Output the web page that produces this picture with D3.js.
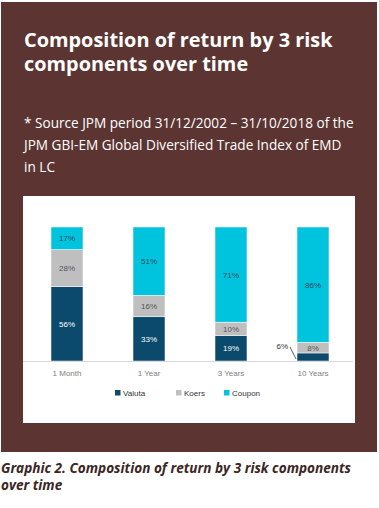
<!DOCTYPE html>
<html><head><meta charset="utf-8">
<script src="https://cdn.jsdelivr.net/npm/d3@7"></script>
<style>html,body{margin:0;padding:0;background:#fff;}svg{display:block;}</style>
</head><body>
<script>
const categories = ["1 Month", "1 Year", "3 Years", "10 Years"];
const seriesNames = ["Valuta", "Koers", "Coupon"];
const valuta = [56, 33, 19, 6];
const koers = [28, 16, 10, 8];
const coupon = [17, 51, 71, 86];
const colors = ["#0b4a6c", "#bfbfbf", "#00c3dd"];
const labelColors = ["#ffffff", "#555555", "#2b4a55"];

const W = 379, H = 508;
const svg = d3.select("body").append("svg").attr("width", W).attr("height", H);

svg.append("rect").attr("x", 1).attr("y", 2).attr("width", 376).attr("height", 450).attr("fill", "#5c3532");
svg.append("rect").attr("x", 23).attr("y", 196).attr("width", 332).attr("height", 227).attr("fill", "#ffffff");

const title = svg.append("text").attr("font-family", "'Open Sans'").attr("font-weight", 700)
  .attr("font-size", 19.9).attr("fill", "#fff");
title.append("tspan").attr("x", 24).attr("y", 47).text("Composition of return by 3 risk");
title.append("tspan").attr("x", 24).attr("y", 71).text("components over time");

const sub = svg.append("text").attr("font-family", "'Open Sans'").attr("font-size", 13.6).attr("fill", "#fff");
["* Source JPM period 31/12/2002 \u2013 31/10/2018 of the", "JPM GBI-EM Global Diversified Trade Index of EMD", "in LC"]
  .forEach((t, i) => sub.append("tspan").attr("x", 24).attr("y", 128 + i * 22).text(t));

const cap = svg.append("text").attr("font-family", "'Open Sans'").attr("font-weight", 700).attr("font-style", "italic")
  .attr("font-size", 13.6).attr("fill", "#3a2624");
cap.append("tspan").attr("x", 1).attr("y", 473).text("Graphic 2. Composition of return by 3 risk components");
cap.append("tspan").attr("x", 1).attr("y", 490).text("over time");

const table = categories.map((c, i) => ({cat: c, Valuta: valuta[i], Koers: koers[i], Coupon: coupon[i]}));
const stack = d3.stack().keys(seriesNames).offset(d3.stackOffsetExpand)(table);

const x = d3.scaleBand().domain(categories).range([26, 354]).paddingInner(0.61).paddingOuter(0.305);
const y = d3.scaleLinear().domain([0, 1]).range([361, 227]);

const g = svg.append("g");
stack.forEach((s, si) => {
  g.selectAll(null).data(s).enter().append("rect")
    .attr("x", d => x(d.data.cat)).attr("width", x.bandwidth())
    .attr("y", d => y(d[1])).attr("height", d => y(d[0]) - y(d[1]))
    .attr("fill", colors[si]).attr("stroke", "#fff").attr("stroke-width", 0.5);
  g.selectAll(null).data(s).enter().append("text")
    .attr("x", d => {
      const v = d.data[s.key];
      return v < 7 ? x(d.data.cat) - 9 : x(d.data.cat) + x.bandwidth() / 2;
    })
    .attr("y", d => {
      const v = d.data[s.key];
      return v < 7 ? y(d[1]) - 4 : (y(d[0]) + y(d[1])) / 2 + 3;
    })
    .attr("text-anchor", d => d.data[s.key] < 7 ? "end" : "middle")
    .attr("font-family", "'Liberation Sans', Arial, sans-serif").attr("font-size", 8)
    .attr("fill", d => d.data[s.key] < 7 ? "#333" : labelColors[si])
    .text(d => d.data[s.key] + "%");
  s.forEach(d => {
    if (d.data[s.key] < 7) {
      g.append("line").attr("x1", x(d.data.cat) - 7).attr("y1", y(d[1]) - 6)
        .attr("x2", x(d.data.cat) - 1).attr("y2", (y(d[0]) + y(d[1])) / 2 + 2)
        .attr("stroke", "#333").attr("stroke-width", 0.8);
    }
  });
});

const axis = svg.append("g").attr("transform", "translate(0,361)")
  .call(d3.axisBottom(x).tickSize(0).tickPadding(9).tickSizeOuter(0));
axis.select(".domain").remove();
svg.append("line").attr("x1", 23).attr("x2", 353).attr("y1", 361.5).attr("y2", 361.5).attr("stroke", "#d9d9d9");
axis.selectAll("text").attr("font-family", "'Liberation Sans', Arial, sans-serif").attr("font-size", 8).attr("fill", "#808080");

const legX = [115, 176, 224];
const leg = svg.append("g");
seriesNames.forEach((n, i) => {
  leg.append("rect").attr("x", legX[i]).attr("y", 390).attr("width", 5.5).attr("height", 5.5).attr("fill", colors[i]);
  leg.append("text").attr("x", legX[i] + 8).attr("y", 396).attr("font-family", "'Liberation Sans', Arial, sans-serif")
    .attr("font-size", 8).attr("fill", "#333").text(n);
});
</script>
</body></html>
